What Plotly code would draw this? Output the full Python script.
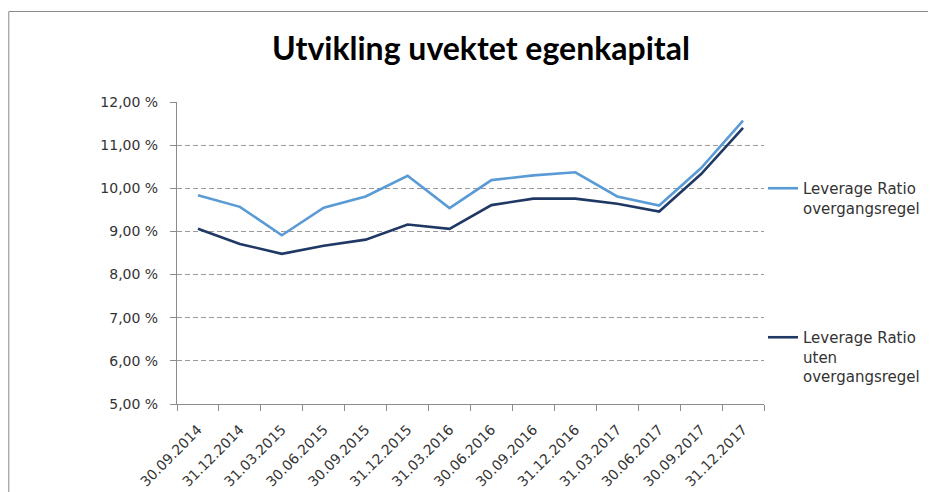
import plotly.graph_objects as go

dates = ["30.09.2014", "31.12.2014", "31.03.2015", "30.06.2015", "30.09.2015",
         "31.12.2015", "31.03.2016", "30.06.2016", "30.09.2016", "31.12.2016",
         "31.03.2017", "30.06.2017", "30.09.2017", "31.12.2017"]
lr_overgang = [9.84, 9.57, 8.91, 9.55, 9.81, 10.29, 9.54, 10.19, 10.30, 10.37,
               9.81, 9.60, 10.47, 11.57]
lr_uten = [9.06, 8.71, 8.48, 8.67, 8.81, 9.16, 9.06, 9.61, 9.76, 9.76,
           9.64, 9.46, 10.33, 11.40]
y_ticks = [5, 6, 7, 8, 9, 10, 11, 12]
y_ticktext = ["5,00 %", "6,00 %", "7,00 %", "8,00 %", "9,00 %", "10,00 %", "11,00 %", "12,00 %"]

FONT = "DejaVu Sans"
TXT = "#333333"

fig = go.Figure()
fig.add_trace(go.Scatter(x=dates, y=lr_overgang, mode="lines",
                         name="Leverage Ratio<br>overgangsregel", legendgroup="a",
                         line=dict(color="#5b9bd5", width=2.6)))
fig.add_trace(go.Scatter(x=dates, y=lr_uten, mode="lines",
                         name="Leverage Ratio<br>uten<br>overgangsregel", legendgroup="b",
                         line=dict(color="#1f3864", width=2.6)))

# page has an 8px body margin; figure coordinates = page - 8
W, H = 928, 484
L, R, T, B = 169, 757, 94, 396
pw, ph = R - L, B - T

def px(x):
    return (x - L) / pw

def py(y):
    return (B - y) / ph

fig.update_layout(
    width=W, height=H,
    margin=dict(l=L, r=W - R, t=T, b=H - B, pad=0),
    paper_bgcolor="white", plot_bgcolor="white",
    font=dict(family=FONT, size=14, color=TXT),
    title=dict(text="<b>Utvikling uvektet egenkapital</b>", x=473 / W, xref="container",
               xanchor="center", y=1 - 41 / H, yanchor="middle", yref="container",
               font=dict(family="Lato", size=32, color="black"), automargin=False),
    showlegend=True,
    legend=dict(x=px(755), y=py(164), xanchor="left", yanchor="top",
                traceorder="grouped", tracegroupgap=107, valign="top",
                font=dict(family=FONT, size=15, color=TXT),
                bgcolor="rgba(0,0,0,0)", itemwidth=30),
    xaxis=dict(type="category", range=[-0.5, len(dates) - 0.5], showgrid=False,
               showline=True, linecolor="#8c8c8c", linewidth=1,
               ticks="outside", tickson="boundaries", ticklen=6, tickcolor="#8c8c8c",
               tickangle=-45, tickfont=dict(family=FONT, size=14, color=TXT),
               ticklabelstandoff=11, automargin=False),
    yaxis=dict(range=[5, 12], tickvals=y_ticks, ticktext=y_ticktext,
               showline=True, linecolor="#8c8c8c", linewidth=1,
               ticks="outside", ticklen=6, tickcolor="#8c8c8c",
               showgrid=True, gridcolor="#9a9a9a", gridwidth=1, griddash="5px,3px",
               zeroline=False, tickfont=dict(family=FONT, size=14, color=TXT),
               ticklabelstandoff=9, automargin=False),
)

# outer chart frame (partially visible)
fig.add_shape(type="rect", xref="paper", yref="paper",
              x0=px(0.5), x1=px(940), y0=py(495), y1=py(3.5),
              line=dict(color="#8a8a8a", width=1), fillcolor="rgba(0,0,0,0)", layer="below")

fig.write_html("out.html")
